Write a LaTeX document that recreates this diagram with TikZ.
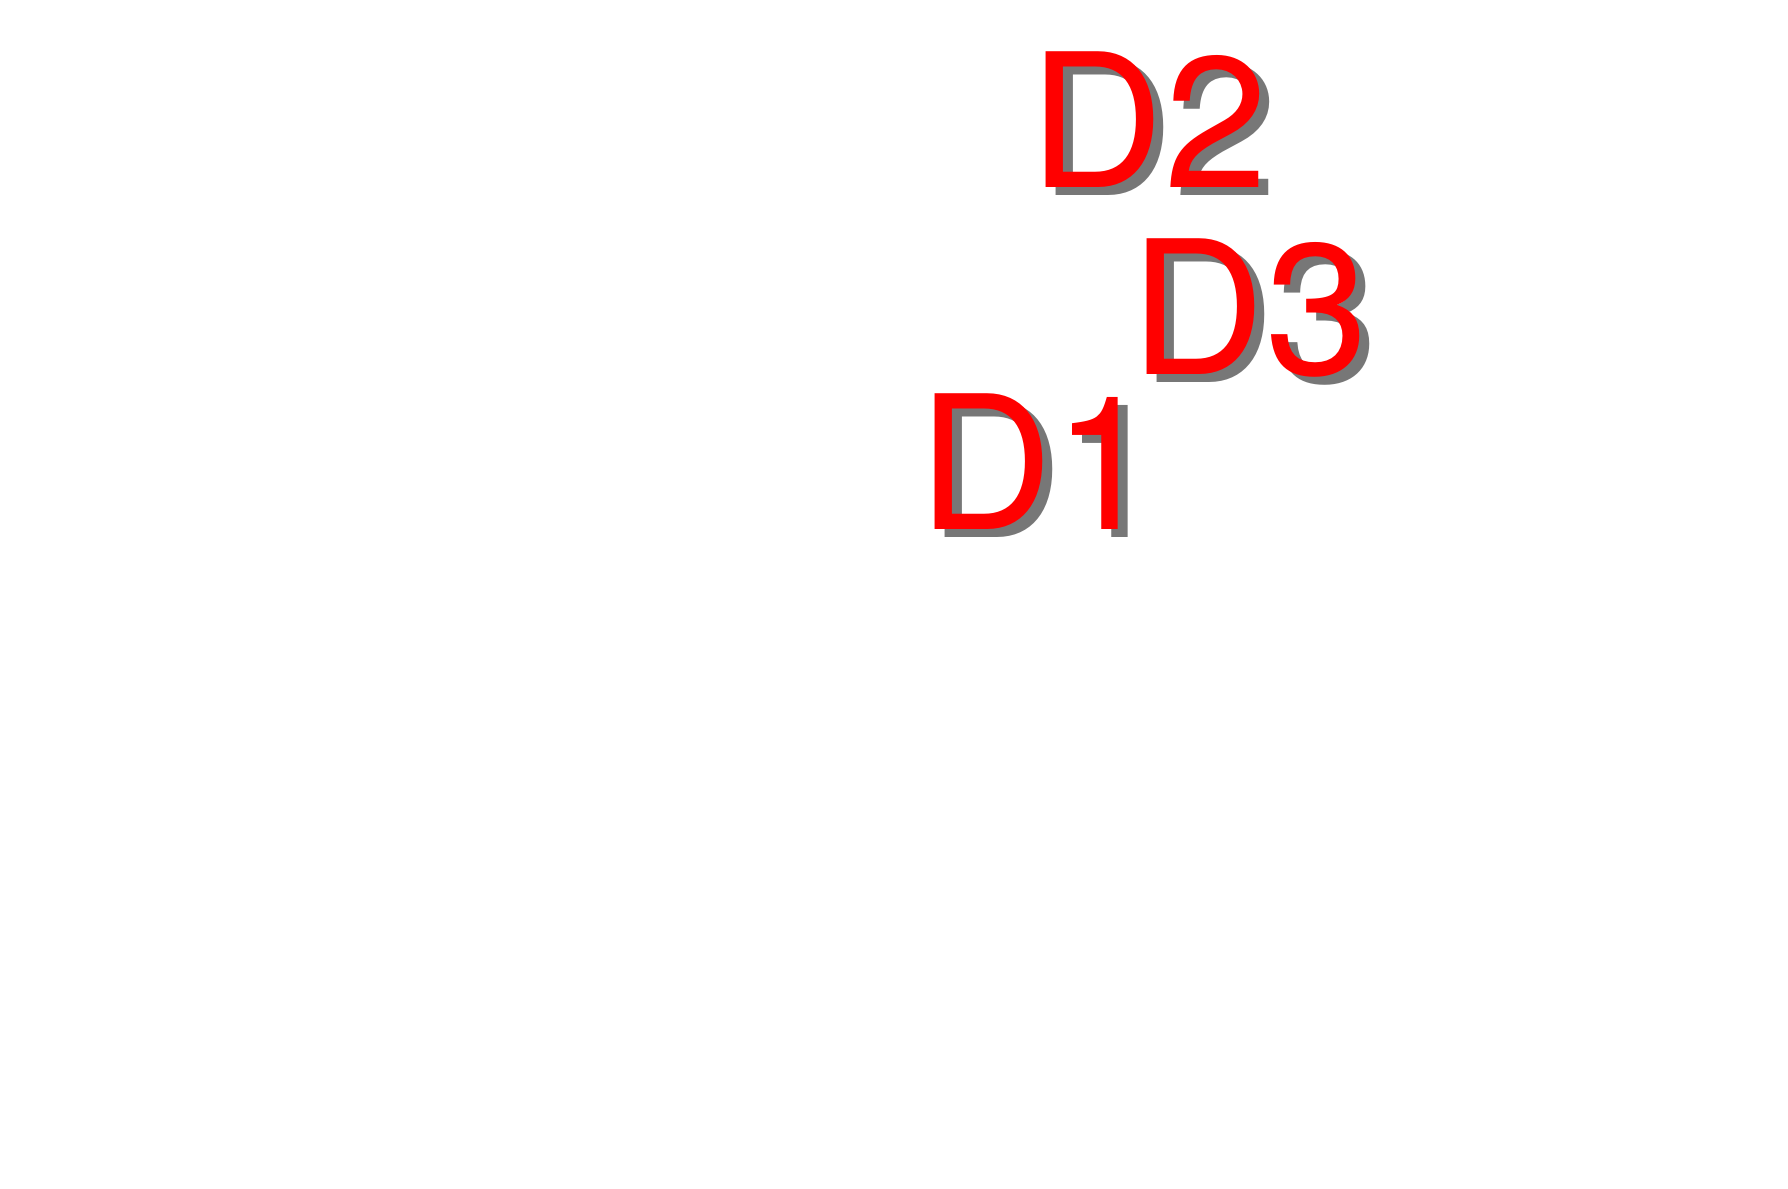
\documentclass[tikz,border=0pt]{standalone}
\usepackage{fontspec}
\setmainfont{TeX Gyre Heros}
\usepackage{xcolor}
\usepackage{tikz}
\usetikzlibrary{positioning}

\definecolor{shadowgray}{HTML}{777777}

\begin{document}
\begin{tikzpicture}[tag node/.style={inner sep=0pt,anchor=base west,text=red,
                    font=\fontsize{53pt}{60pt}\selectfont},
                    shadow node/.style={tag node,text=shadowgray,xshift=0.1cm,yshift=-0.08cm}]

\useasboundingbox (0,0) rectangle (17.88,11.88);

% shadows first
\node[shadow node] (D1s) at (9.18,6.59) {D1};
\node[shadow node] (D2s) at (10.29,10.01) {D2};
\node[shadow node] (D3s) at (11.30,8.14) {D3};

\node[tag node] (D1) at (9.18,6.59) {D1};
\node[tag node] (D2) at (10.29,10.01) {D2};
\node[tag node] (D3) at (11.30,8.14) {D3};

\end{tikzpicture}
\end{document}
